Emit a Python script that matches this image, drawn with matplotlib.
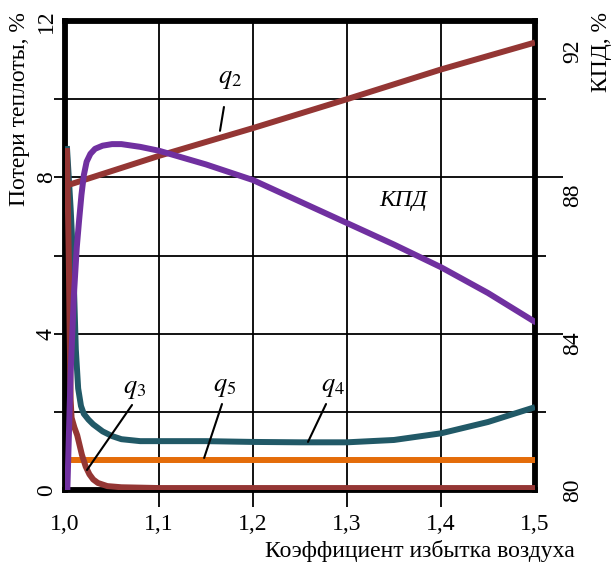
import matplotlib
matplotlib.use('Agg')
import matplotlib.pyplot as plt
from matplotlib import transforms

plt.rcParams['font.family'] = ['Liberation Serif', 'DejaVu Serif']
plt.rcParams['mathtext.fontset'] = 'stix'

# ---------------- data ----------------
q2_x = [1.003, 1.1, 1.2, 1.3, 1.4, 1.5]
q2_y = [7.8, 8.55, 9.26, 10.0, 10.76, 11.45]

q3_x = [1.002, 1.004, 1.005, 1.006, 1.007, 1.01, 1.013, 1.018, 1.022, 1.026,
        1.03, 1.035, 1.045, 1.06, 1.1, 1.2, 1.3, 1.4, 1.5]
q3_y = [8.75, 6.0, 4.0, 2.3, 1.85, 1.6, 1.4, 0.9, 0.6, 0.4,
        0.27, 0.18, 0.1, 0.07, 0.05, 0.05, 0.05, 0.05, 0.05]

q4_x = [1.002, 1.006, 1.008, 1.0095, 1.0115, 1.014, 1.017, 1.02, 1.025, 1.03,
        1.04, 1.05, 1.06, 1.08, 1.1, 1.15, 1.2, 1.25, 1.3, 1.35, 1.4, 1.45, 1.5]
q4_y = [8.8, 7.2, 6.2, 5.2, 3.6, 2.6, 2.15, 1.95, 1.8, 1.68,
        1.5, 1.38, 1.3, 1.25, 1.25, 1.25, 1.23, 1.22, 1.22, 1.28, 1.45, 1.74, 2.12]

q5_x = [1.002, 1.5]
q5_y = [0.78, 0.78]

kpd_x = [1.0025, 1.006, 1.0095, 1.0125, 1.015, 1.0175, 1.02, 1.023, 1.027, 1.032,
         1.04, 1.05, 1.06, 1.08, 1.1, 1.15, 1.2, 1.25, 1.3, 1.35, 1.4, 1.45, 1.5]
kpd_y = [80.0, 83.0, 85.0, 86.2, 86.9, 87.55, 88.05, 88.4, 88.6, 88.73,
         88.81, 88.85, 88.85, 88.78, 88.68, 88.33, 87.93, 87.38, 86.83, 86.28, 85.7, 85.04, 84.3]

x_ticks = [1.0, 1.1, 1.2, 1.3, 1.4, 1.5]
x_labels = ['1,0', '1,1', '1,2', '1,3', '1,4', '1,5']
x_grid = [1.1, 1.2, 1.3, 1.4]
loss_ticks = [0, 4, 8, 12]
loss_grid = [2, 4, 6, 8, 10]
kpd_ticks = [80, 84, 88, 92]
kpd_long = [84, 88]
kpd_short = [82, 86, 90]

# ---------------- styling ----------------
RED = '#943634'
PURPLE = '#7030A0'
TEAL = '#215967'
ORANGE = '#E46C0A'
LW = 4.3
FS = 17

fig = plt.figure(figsize=(6.12, 5.65), dpi=100)
ax = fig.add_axes([65/612, 75/565, 470/612, 469/565])
ax.set_xlim(1.0, 1.5)
ax.set_ylim(0, 12)

for sp in ax.spines.values():
    sp.set_linewidth(4.2)
    sp.set_color('black')
    sp.set_zorder(1.5)

ax.xaxis.remove_overlapping_locs = False
ax.yaxis.remove_overlapping_locs = False
ax.set_xticks(x_ticks)
ax.set_xticklabels(x_labels, fontsize=FS)
ax.set_xticks(x_grid, minor=True)
ax.set_yticks(loss_ticks)
ax.set_yticklabels([str(v) for v in loss_ticks], fontsize=FS, rotation=90, va='center')
ax.set_yticks(loss_grid, minor=True)
ax.tick_params(axis='x', which='major', length=0, pad=17)
ax.tick_params(axis='y', which='major', length=0, pad=6)
ax.tick_params(axis='x', which='minor', length=12, width=1.3, color='black', direction='out')
ax.tick_params(axis='y', which='minor', length=8, width=1.3, color='black', direction='out')
ax.grid(False, which='major')
ax.grid(True, which='minor', color='black', linewidth=1.3)
ax.set_axisbelow(True)

ax.plot(q4_x, q4_y, color=TEAL, lw=LW, zorder=3, solid_capstyle='butt')
ax.plot(q5_x, q5_y, color=ORANGE, lw=LW, zorder=3.1, solid_capstyle='butt')
ax.plot(q3_x, q3_y, color=RED, lw=LW, zorder=3.2, solid_capstyle='butt')
ax.plot(q2_x, q2_y, color=RED, lw=LW, zorder=3.3, solid_capstyle='butt')

ax2 = ax.twinx()
ax2.set_ylim(80, 92)
for sp in ax2.spines.values():
    sp.set_visible(False)
ax2.set_yticks(kpd_long)
ax2.set_yticklabels([])
ax2.set_yticks(kpd_short, minor=True)
ax2.tick_params(axis='y', which='major', length=20, width=1.3, color='black', direction='out')
ax2.tick_params(axis='y', which='minor', length=8, width=1.3, color='black', direction='out')
ax2.plot(kpd_x, kpd_y, color=PURPLE, lw=LW, zorder=4, solid_capstyle='round',
         solid_joinstyle='round')

# right-hand tick labels (placed as in the original drawing)
label_shift_pt = [0, -6.5, -13, -21.5]
for v, dy in zip(kpd_ticks, label_shift_pt):
    tr = transforms.blended_transform_factory(ax2.transAxes, ax2.transData)
    tr = transforms.offset_copy(tr, fig=fig, x=38*0.72, y=dy, units='points')
    ax2.text(1.0, v, str(v), transform=tr, rotation=90, ha='center', va='center',
             fontsize=FS, clip_on=False)

# annotations
def lbl(text, xy_text, xy_a, xy_b):
    ax.annotate('', xy=xy_b, xytext=xy_a,
                arrowprops=dict(arrowstyle='-', lw=1.5, color='black',
                                shrinkA=0, shrinkB=0), zorder=5)
    ax.text(xy_text[0], xy_text[1], text, fontsize=19, ha='center', va='center', zorder=5)

lbl(r'$q_2$', (1.1755, 10.49), (1.1691, 9.80), (1.1649, 9.19))
lbl(r'$q_3$', (1.0745, 2.56), (1.0713, 2.175), (1.0234, 0.512))
lbl(r'$q_5$', (1.170, 2.61), (1.167, 2.20), (1.148, 0.82))
lbl(r'$q_4$', (1.285, 2.61), (1.2777, 2.20), (1.2585, 1.23))
ax.text(1.3596, 7.42, 'КПД', fontsize=FS, style='italic', ha='center', va='center')

fig.text(20/612, 1 - 12/565, 'Потери теплоты, %', rotation=90, ha='center', va='top', fontsize=FS)
fig.text(601/612, 1 - 12/565, 'КПД, %', rotation=90, ha='center', va='top', fontsize=FS)
fig.text(575/612, 1 - 551/565, 'Коэффициент избытка воздуха', ha='right', va='center', fontsize=FS)

fig.savefig('out.png', dpi=100)
